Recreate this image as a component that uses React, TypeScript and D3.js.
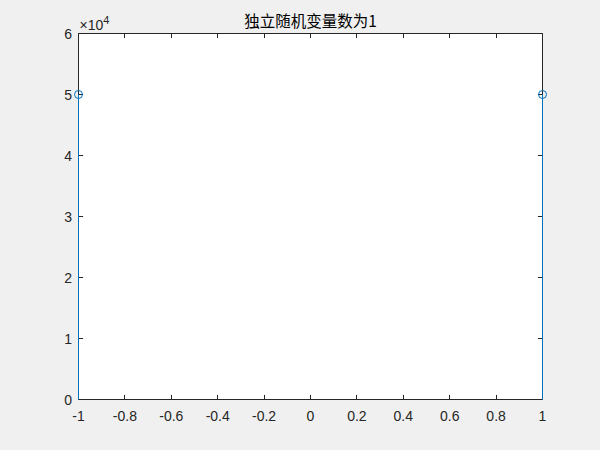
import React, { useEffect, useRef } from "react";
import * as d3 from "d3";

// stem data: x positions and counts
const xValues = [-1, 1];
const counts = [50000, 50000];
const xTicks = [-1, -0.8, -0.6, -0.4, -0.2, 0, 0.2, 0.4, 0.6, 0.8, 1];
const yTicks = [0, 1, 2, 3, 4, 5, 6];
const yScaleExp = 4;
const title = "独立随机变量数为1";

const W = 600;
const H = 450;

export default function App() {
  const svgRef = useRef<SVGSVGElement | null>(null);

  useEffect(() => {
    if (!svgRef.current) return;
    const svg = d3.select(svgRef.current);
    svg.selectAll("*").remove();

    // half-pixel edges so 1px lines stay crisp
    const left = 78.5;
    const right = 542.5;
    const top = 33.5;
    const bottom = 399.5;

    const x = d3.scaleLinear().domain([-1, 1]).range([left, right]);
    const y = d3.scaleLinear().domain([0, 6 * 10 ** yScaleExp]).range([bottom, top]);

    const font = "'Liberation Sans', Arial, sans-serif";
    const axisColor = "#262626";
    const blue = "#0072BD";

    svg.append("rect").attr("width", W).attr("height", H).attr("fill", "#f0f0f0");
    svg.append("rect")
      .attr("x", left).attr("y", top)
      .attr("width", right - left).attr("height", bottom - top)
      .attr("fill", "#ffffff");

    // box
    const box = svg.append("g").attr("fill", "none").attr("stroke-width", 1).attr("stroke", axisColor);
    box.append("line").attr("x1", left).attr("x2", right).attr("y1", bottom).attr("y2", bottom);
    box.append("line").attr("x1", left).attr("x2", left).attr("y1", top).attr("y2", bottom);
    box.append("line").attr("x1", left).attr("x2", right).attr("y1", top).attr("y2", top);
    box.append("line").attr("x1", right).attr("x2", right).attr("y1", top).attr("y2", bottom);

    // x ticks
    const tickLen = 4.6;
    const xt = svg.append("g");
    xTicks.forEach((t) => {
      const xx = Math.round(x(t) - 0.5) + 0.5;
      xt.append("line").attr("x1", xx).attr("x2", xx).attr("y1", bottom).attr("y2", bottom - tickLen).attr("stroke", axisColor);
      xt.append("line").attr("x1", xx).attr("x2", xx).attr("y1", top).attr("y2", top + tickLen).attr("stroke", axisColor);
      xt.append("text")
        .attr("x", x(t)).attr("y", 421)
        .attr("text-anchor", "middle")
        .attr("font-family", font).attr("font-size", 14)
        .attr("fill", axisColor)
        .text(String(t));
    });

    // y ticks
    const yt = svg.append("g");
    yTicks.forEach((t) => {
      const yy = Math.round(y(t * 10 ** yScaleExp) - 0.5) + 0.5;
      yt.append("line").attr("x1", left).attr("x2", left + tickLen).attr("y1", yy).attr("y2", yy).attr("stroke", axisColor);
      yt.append("line").attr("x1", right).attr("x2", right - tickLen).attr("y1", yy).attr("y2", yy).attr("stroke", axisColor);
      yt.append("text")
        .attr("x", 72).attr("y", yy)
        .attr("dy", "0.36em")
        .attr("text-anchor", "end")
        .attr("font-family", font).attr("font-size", 14)
        .attr("fill", axisColor)
        .text(String(t));
    });

    // exponent label
    const exp = svg.append("text")
      .attr("x", left + 1).attr("y", 30)
      .attr("font-family", font).attr("font-size", 14)
      .attr("fill", axisColor);
    exp.append("tspan").text("×10");
    exp.append("tspan").attr("dy", -6).attr("font-size", 11).text(String(yScaleExp));

    // stems drawn over the axes
    const stems = svg.append("g");
    xValues.forEach((xv, i) => {
      stems.append("line")
        .attr("x1", x(xv)).attr("x2", x(xv))
        .attr("y1", y(0)).attr("y2", y(counts[i]))
        .attr("stroke", blue).attr("stroke-width", 1);
    });

    // markers
    svg.append("g")
      .selectAll("circle")
      .data(xValues)
      .join("circle")
      .attr("cx", (d) => x(d))
      .attr("cy", (_, i) => y(counts[i]))
      .attr("r", 4)
      .attr("fill", "none")
      .attr("stroke", blue)
      .attr("stroke-width", 1);

    // title
    svg.append("text")
      .attr("x", (left + right) / 2).attr("y", 26.5)
      .attr("text-anchor", "middle")
      .attr("font-family", "'Noto Sans CJK SC', sans-serif")
      .attr("font-size", 15.5)
      .attr("fill", "#000000")
      .text(title);
  }, []);

  return (
    <svg
      ref={svgRef}
      width={W}
      height={H}
      style={{ position: "absolute", left: 0, top: 0, display: "block" }}
    />
  );
}
